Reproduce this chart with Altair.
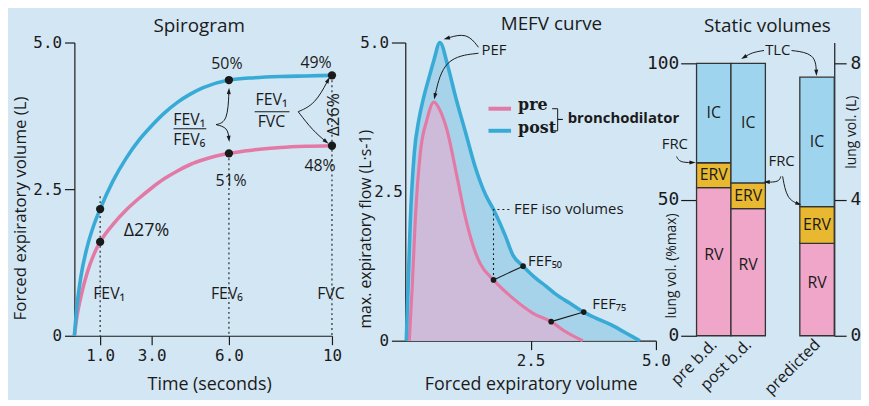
import json
import math
import altair as alt
import pandas as pd

BG = "#d3e6f4"
BLUE = "#38aad6"
PINK = "#e37aa6"
BLUE_FILL = "#a6d3ea"
PINK_FILL = "#cebbd9"
INK = "#1a1a1a"
SANS = "Open Sans, Noto Sans, DejaVu Sans"
MONO = "DejaVu Sans Mono"

# ---------------- data: spirogram ----------------
spiro_time = [0, 0.1, 0.25, 0.5, 0.75, 1, 1.5, 2, 2.5, 3, 3.5, 4, 4.5, 5, 6, 7, 8, 9, 10]
spiro_post = [0, 0.5, 1.0, 1.52, 1.88, 2.16, 2.64, 3.02, 3.33, 3.58, 3.8, 3.98, 4.12, 4.23, 4.36, 4.40, 4.42, 4.43, 4.44]
spiro_pre = [0, 0.33, 0.66, 1.08, 1.38, 1.6, 1.9, 2.14, 2.34, 2.52, 2.68, 2.81, 2.92, 3.0, 3.11, 3.17, 3.21, 3.23, 3.24]
spiro_marker_times = [1, 6, 10]
spiro_marker_names = ["FEV\u2081", "FEV\u2086", "FVC"]
spiro_drop_tops = [2.38, 3.11, 4.44]
pct_post = ["50%", "49%"]
pct_pre = ["51%", "48%"]

# ---------------- data: MEFV ----------------
mefv_post_vol = [0.02, 0.06, 0.10, 0.18, 0.27, 0.37, 0.47, 0.57, 0.69, 0.85, 1.0, 1.2, 1.4, 1.6, 1.76,
                 2.0, 2.15, 2.35, 2.6, 2.8, 3.0, 3.3, 3.56, 3.8, 4.12, 4.4, 4.68]
mefv_post_flow = [0, 1.0, 2.0, 3.15, 3.7, 4.09, 4.4, 4.7, 5.0, 4.6, 4.1, 3.5, 2.9, 2.45, 2.2,
                  1.75, 1.43, 1.25, 1.05, 0.92, 0.78, 0.62, 0.48, 0.38, 0.26, 0.13, 0]
mefv_pre_vol = [0.08, 0.14, 0.2, 0.3, 0.43, 0.57, 0.7, 0.83, 1.03, 1.19, 1.35, 1.49, 1.76,
                2.15, 2.55, 2.91, 3.2, 3.54]
mefv_pre_flow = [0, 0.93, 2.04, 3.15, 3.7, 4.0, 3.85, 3.54, 2.76, 2.1, 1.6, 1.3, 1.02,
                 0.71, 0.46, 0.32, 0.15, 0]
fef_pre_vol = [1.76, 2.91]
fef_post_vol = [2.35, 3.56]
fef_names = ["FEF\u2085\u2080", "FEF\u2087\u2085"]

# ---------------- data: static volumes (% of max) ----------------
static_slots = ["pre b.d.", "post b.d.", "", "predicted"]
static_bars = ["pre b.d.", "post b.d.", "predicted"]
static_rv = [54.4, 46.7, 33.9]
static_erv = [9.1, 9.4, 13.5]
static_ic = [36.5, 43.9, 47.5]
segments = ["RV", "ERV", "IC"]
seg_colors = ["#f0a6c8", "#e8b830", "#9fd4ef"]
max_litres = 8

ARROW = "M0,-1L0.6,0.9L-0.6,0.9Z"


def arrow_layers(arrows, xs, ys, px_x, px_y):
    rows, heads = [], []
    for i, pts in enumerate(arrows):
        for j, (x, y) in enumerate(pts):
            rows.append({"id": i, "o": j, "x": x, "y": y})
        (x1, y1), (x2, y2) = pts[-2], pts[-1]
        ang = math.degrees(math.atan2((x2 - x1) * px_x, (y2 - y1) * px_y)) % 360
        heads.append({"x": x2, "y": y2, "ang": ang})
    path = alt.Chart(pd.DataFrame(rows)).mark_line(
        interpolate="basis", color=INK, strokeWidth=1).encode(
        x=alt.X("x:Q", scale=xs), y=alt.Y("y:Q", scale=ys),
        detail="id:N", order="o:Q")
    head = alt.Chart(pd.DataFrame(heads)).mark_point(
        shape=ARROW, filled=True, color=INK, size=45, opacity=1).encode(
        x=alt.X("x:Q", scale=xs), y=alt.Y("y:Q", scale=ys),
        angle=alt.Angle("ang:Q", scale=None))
    return [path, head]


def texts(rows, xs, ys, **kw):
    df = pd.DataFrame(rows, columns=["x", "y", "t"])
    base = dict(font=SANS, fontSize=16, color=INK)
    base.update(kw)
    return alt.Chart(df).mark_text(**base).encode(
        x=alt.X("x:Q", scale=xs), y=alt.Y("y:Q", scale=ys), text="t:N")


def title(text, dx, offset):
    return alt.TitleParams(text, dx=dx, offset=offset, baseline="alphabetic",
                           font=SANS, fontSize=19, fontWeight="normal",
                           anchor="middle", color=INK)


series_color = alt.Color("s:N", scale=alt.Scale(domain=["pre", "post"], range=[PINK, BLUE]), legend=None)

# ======================= Panel 1: Spirogram =======================
X1 = alt.Scale(domain=[0, 10], nice=False, zero=False)
Y1 = alt.Scale(domain=[0, 5], nice=False, zero=False)
PX1, PY1 = 26.0, 59.2
n = len(spiro_time)
spiro_df = pd.DataFrame({"x": spiro_time * 2, "y": spiro_pre + spiro_post,
                         "s": ["pre"] * n + ["post"] * n})
post_at = dict(zip(spiro_time, spiro_post))
pre_at = dict(zip(spiro_time, spiro_pre))

x1_axis = alt.Axis(values=[1, 3, 6, 10], labelExpr="datum.value == 10 ? '10' : format(datum.value, '.1f')",
                   title="Time (seconds)", tickSize=9, labelPadding=3, labelFontSize=16, labelFlush=False,
                   titleFontSize=18, titleX=136, titleY=49, titleBaseline="middle")
y1_axis = alt.Axis(values=[0, 2.5, 5], labelExpr="datum.value == 0 ? '0' : format(datum.value, '.1f')",
                   title="Forced expiratory volume (L)", tickSize=10, labelPadding=3, labelFontSize=16,
                   titleFontSize=17, titleX=-54, titleY=167, titleAngle=270, titleBaseline="middle")

drops = alt.Chart(pd.DataFrame({"x": spiro_marker_times, "y": spiro_drop_tops, "y0": [0] * 3})).mark_rule(
    color=INK, strokeWidth=1.1, strokeDash=[2, 3]).encode(
    x=alt.X("x:Q", scale=X1), y=alt.Y("y:Q", scale=Y1), y2="y0:Q")
lines1 = alt.Chart(spiro_df).mark_line(strokeWidth=3.6, interpolate="monotone").encode(
    x=alt.X("x:Q", scale=X1, axis=x1_axis), y=alt.Y("y:Q", scale=Y1, axis=y1_axis), color=series_color)
dots1 = alt.Chart(pd.DataFrame({
    "x": spiro_marker_times * 2,
    "y": [post_at[t] for t in spiro_marker_times] + [pre_at[t] for t in spiro_marker_times]})).mark_circle(
    size=70, color=INK, opacity=1).encode(x=alt.X("x:Q", scale=X1), y=alt.Y("y:Q", scale=Y1))
frac1 = alt.Chart(pd.DataFrame({"x": [3.85, 7.0], "x2": [5.12, 8.35], "y": [3.53, 3.82]})).mark_rule(
    color=INK, strokeWidth=1.2).encode(x=alt.X("x:Q", scale=X1), x2="x2:Q", y=alt.Y("y:Q", scale=Y1))
arrows1 = arrow_layers([
    [(5.5, 3.6), (5.95, 3.65), (6.0, 4.17)],
    [(5.5, 3.6), (5.95, 3.55), (6.0, 3.36)],
    [(8.69, 3.82), (9.35, 3.95), (9.85, 4.36)],
    [(8.69, 3.82), (9.25, 3.5), (9.77, 3.31)],
], X1, Y1, PX1, PY1)
t1 = texts([
    (1.35, 0.71, spiro_marker_names[0]), (5.92, 0.71, spiro_marker_names[1]), (9.96, 0.71, spiro_marker_names[2]),
    (5.92, 4.63, pct_post[0]), (9.38, 4.65, pct_post[1]),
    (6.08, 2.64, pct_pre[0]), (9.54, 2.89, pct_pre[1]),
    (4.46, 3.68, "FEV\u2081"), (4.46, 3.33, "FEV\u2086"),
    (7.65, 4.02, "FEV\u2081"), (7.65, 3.65, "FVC"),
], X1, Y1)
t1b = texts([(2.8, 1.79, "\u039427%")], X1, Y1, fontSize=18)
t1c = texts([(10.1, 3.77, "\u039426%")], X1, Y1, fontSize=17, angle=270)

panel1 = alt.layer(drops, frac1, *arrows1, lines1, dots1, t1, t1b, t1c).properties(
    width=260, height=296, title=title("Spirogram", -4, -16))

# ======================= Panel 2: MEFV curve =======================
X2 = alt.Scale(domain=[0, 5], nice=False, zero=False)
Y2 = alt.Scale(domain=[0, 5], nice=False, zero=False)
PX2, PY2 = 50.6, 60.2
post_df = pd.DataFrame({"x": mefv_post_vol, "y": mefv_post_flow, "s": "post"})
pre_df = pd.DataFrame({"x": mefv_pre_vol, "y": mefv_pre_flow, "s": "pre"})
pre_at2 = dict(zip(mefv_pre_vol, mefv_pre_flow))
post_at2 = dict(zip(mefv_post_vol, mefv_post_flow))

x2_axis = alt.Axis(values=[2.5, 5], format=".1f", title="Forced expiratory volume", tickSize=9,
                   labelPadding=3, labelFontSize=16, labelFlush=False, titleFontSize=18,
                   titleY=44, titleBaseline="middle")
y2_axis = alt.Axis(values=[0, 2.5, 5], labelExpr="datum.value == 0 ? '0' : format(datum.value, '.1f')",
                   title="max. expiratory flow (L\u00b7s-1)",
                   tickSize={"condition": {"test": "datum.value == 2.5", "value": 0}, "value": 14},
                   labelPadding=3, labelFontSize=16, titleFontSize=16, titleX=-40, titleY=188,
                   titleAngle=270, titleBaseline="middle")

area_post = alt.Chart(post_df).mark_area(color=BLUE_FILL, opacity=1, interpolate="monotone").encode(
    x=alt.X("x:Q", scale=X2, axis=x2_axis), y=alt.Y("y:Q", scale=Y2, axis=y2_axis))
area_pre = alt.Chart(pre_df).mark_area(color=PINK_FILL, opacity=1, interpolate="monotone").encode(
    x=alt.X("x:Q", scale=X2), y=alt.Y("y:Q", scale=Y2))
line_pre = alt.Chart(pre_df).mark_line(strokeWidth=3.2, interpolate="monotone").encode(
    x=alt.X("x:Q", scale=X2), y=alt.Y("y:Q", scale=Y2), color=series_color)
line_post = alt.Chart(post_df).mark_line(strokeWidth=3.6, interpolate="monotone").encode(
    x=alt.X("x:Q", scale=X2), y=alt.Y("y:Q", scale=Y2), color=series_color)

iso = alt.Chart(pd.DataFrame({"x": [fef_pre_vol[0], fef_pre_vol[0], 2.1],
                              "y": [pre_at2[fef_pre_vol[0]], 2.2, 2.2], "o": [0, 1, 2]})).mark_line(
    color=INK, strokeWidth=1.1, strokeDash=[2, 3]).encode(
    x=alt.X("x:Q", scale=X2), y=alt.Y("y:Q", scale=Y2), order="o:Q")
fef_rows = []
for i, (a, b) in enumerate(zip(fef_pre_vol, fef_post_vol)):
    fef_rows.append({"p": i, "x": a, "y": pre_at2[a]})
    fef_rows.append({"p": i, "x": b, "y": post_at2[b]})
fef_df = pd.DataFrame(fef_rows)
fef_lines = alt.Chart(fef_df).mark_line(color=INK, strokeWidth=1.1).encode(
    x=alt.X("x:Q", scale=X2), y=alt.Y("y:Q", scale=Y2), detail="p:N")
fef_dots = alt.Chart(fef_df).mark_circle(color=INK, size=32, opacity=1).encode(
    x=alt.X("x:Q", scale=X2), y=alt.Y("y:Q", scale=Y2))
arrows2 = arrow_layers([
    [(1.46, 4.92), (1.23, 5.17), (0.83, 5.07)],
    [(1.46, 4.82), (0.77, 4.75), (0.59, 4.1)],
], X2, Y2, PX2, PY2)
t2 = texts([
    (1.52, 4.87, "PEF"), (2.17, 2.2, "FEF iso volumes"),
    (2.45, 1.33, fef_names[0]), (3.73, 0.62, fef_names[1]),
], X2, Y2, align="left", fontSize=15)
leg_lines = alt.Chart(pd.DataFrame({"x": [1.66, 1.66], "x2": [2.11, 2.11], "y": [3.89, 3.52],
                                    "s": ["pre", "post"]})).mark_rule(strokeWidth=4).encode(
    x=alt.X("x:Q", scale=X2), x2="x2:Q", y=alt.Y("y:Q", scale=Y2), color=series_color)
bracket = alt.Chart(pd.DataFrame({
    "x": [2.93, 3.04, 3.04, 3.14, 3.04, 3.04, 2.93],
    "y": [3.89, 3.89, 3.71, 3.71, 3.71, 3.52, 3.52], "o": list(range(7))})).mark_line(
    color=INK, strokeWidth=1).encode(x=alt.X("x:Q", scale=X2), y=alt.Y("y:Q", scale=Y2), order="o:Q")
leg_text = texts([(2.25, 3.95, "pre"), (2.25, 3.57, "post")], X2, Y2, align="left",
                 font="DejaVu Serif", fontWeight="bold", fontSize=16)
leg_text2 = texts([(3.24, 3.73, "bronchodilator")], X2, Y2, align="left", fontWeight="bold", fontSize=15)

panel2 = alt.layer(area_post, area_pre, line_pre, line_post, iso, fef_lines, fef_dots, *arrows2,
                   t2, leg_lines, bracket, leg_text, leg_text2).properties(
    width=253, height=301, title=title("MEFV curve", 21, -16))

# ======================= Panel 3: Static volumes =======================
PCT_TOP = 100 * 296 / 275
X3 = alt.Scale(domain=[0, len(static_slots)], nice=False, zero=False)
Y3 = alt.Scale(domain=[0, PCT_TOP], nice=False, zero=False)
PX3, PY3 = 139 / len(static_slots), 296 / PCT_TOP

bar_rows, lab_rows = [], []
for cat, rv, erv, ic in zip(static_bars, static_rv, static_erv, static_ic):
    pos = static_slots.index(cat)
    lo = 0
    for seg, v in zip(segments, [rv, erv, ic]):
        bar_rows.append({"x0": pos, "x1": pos + 1, "y0": lo, "y1": lo + v, "seg": seg})
        lab_rows.append((pos + 0.5, lo + v / 2 + (2.5 if seg == "RV" else 0), seg))
        lo += v
bar_df = pd.DataFrame(bar_rows)

x3_axis = alt.Axis(values=[static_slots.index(c) + 0.5 for c in static_bars],
                   labelExpr=json.dumps(static_slots) + "[floor(datum.value)]",
                   labelAngle=-45, labelAlign="right", labelBaseline="middle", labelFont=SANS,
                   labelFontSize=16, labelPadding=6, labelOverlap=False, ticks=False, domain=False,
                   title=None)
y3_axis = alt.Axis(values=[0, 50, 100], tickSize=16, labelPadding=2, labelFontSize=18, domain=False,
                   title="lung vol. (%max)", titleFontSize=14, titleX=-25, titleY=225, titleAngle=270,
                   titleBaseline="middle")
yl_axis = alt.Axis(orient="right", values=[0, 4, 8], tickSize=12, labelPadding=4, labelFontSize=18,
                   title="lung vol. (L)", titleFontSize=14, titleX=17, titleY=90, titleAngle=270,
                   titleBaseline="middle")

bars = alt.Chart(bar_df).mark_bar(stroke="#333", strokeWidth=1.3).encode(
    x=alt.X("x0:Q", scale=X3, axis=x3_axis), x2="x1:Q",
    y=alt.Y("y0:Q", scale=Y3, axis=y3_axis), y2="y1:Q",
    color=alt.Color("seg:N", scale=alt.Scale(domain=segments, range=seg_colors), legend=None))
bar_labels = texts(lab_rows, X3, Y3, fontSize=16)
arrows3 = arrow_layers([
    [(1.96, 104.7), (1.61, 104.0), (1.38, 102.2)],
    [(2.76, 104.7), (3.45, 103.6), (3.48, 96.6)],
    [(-0.58, 65.8), (-0.49, 63.6), (-0.12, 63.6)],
    [(2.45, 58.5), (2.39, 56.4), (2.04, 56.4)],
    [(2.5, 58.5), (2.62, 50.2), (2.96, 48.4)],
], X3, Y3, PX3, PY3)
t3 = texts([(2.36, 104.7, "TLC"), (-0.63, 70.2, "FRC"), (2.47, 64.0, "FRC")], X3, Y3, fontSize=15)

litre_layer = alt.Chart(pd.DataFrame({"L": [0, max_litres]})).mark_point(opacity=0).encode(
    y=alt.Y("L:Q", scale=alt.Scale(domain=[0, max_litres * PCT_TOP / 100], nice=False, zero=False),
            axis=yl_axis))

panel3 = alt.layer(alt.layer(bars, bar_labels, *arrows3, t3), litre_layer).resolve_scale(
    y="independent").properties(width=139, height=296, title=title("Static volumes", 2, -8))


def spacer(w):
    return alt.Chart(pd.DataFrame({"v": [0]})).mark_point(opacity=0).encode(
        x=alt.X("v:Q", axis=None), y=alt.Y("v:Q", axis=None)).properties(width=w, height=296)


chart = alt.hconcat(panel1, spacer(74), panel2, spacer(41), panel3, spacing=0, bounds="flush").resolve_scale(
    color="independent"
).properties(
    background=BG, padding={"left": 4, "top": 5, "right": 0, "bottom": 0}
).configure_view(stroke=None).configure_axis(
    grid=False, domainColor=INK, tickColor=INK, domainWidth=1.2, tickWidth=1.2,
    labelColor=INK, titleColor=INK, labelFont=MONO, titleFont=SANS, titleFontWeight="normal"
)

chart.save("out.html", embed_options={"renderer": "svg", "actions": False})
